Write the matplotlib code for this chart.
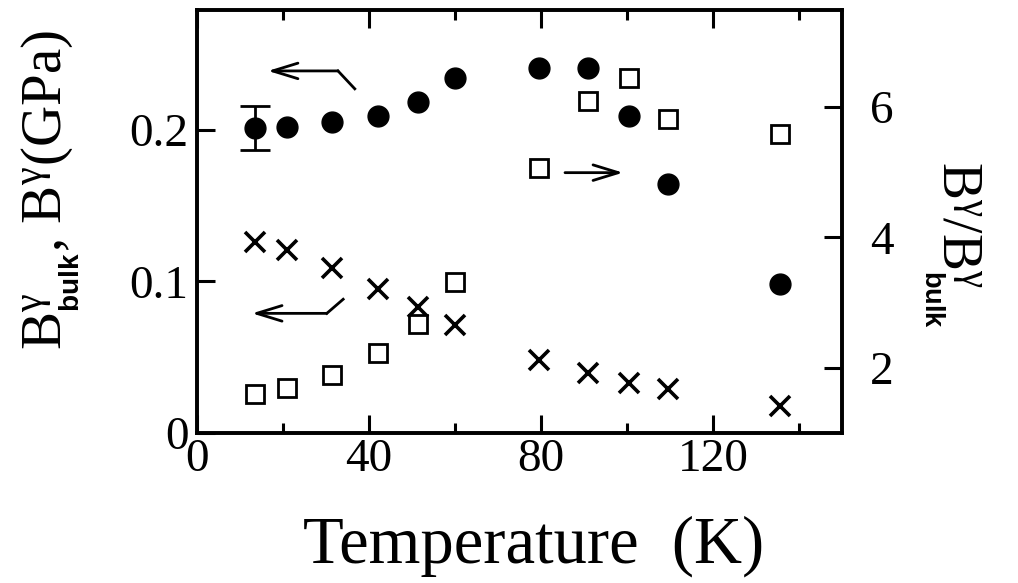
#!/usr/bin/env python
# B^gamma, B^gamma_bulk and their ratio vs temperature (two y axes)
import matplotlib
matplotlib.use('Agg')
import numpy as np
import matplotlib.pyplot as plt
from matplotlib.ticker import MultipleLocator

matplotlib.rcParams['font.family'] = 'Liberation Serif'
matplotlib.rcParams['mathtext.fontset'] = 'custom'
matplotlib.rcParams['mathtext.rm'] = 'Liberation Serif'
matplotlib.rcParams['mathtext.it'] = 'Liberation Serif:italic'
matplotlib.rcParams['mathtext.sf'] = 'Liberation Sans:bold'

# data
temperature = [13.5, 21, 31.5, 42, 51.5, 60, 79.5, 91, 100.5, 109.5, 135.5]
b_gamma = [0.201, 0.202, 0.205, 0.209, 0.218, 0.234, 0.241, 0.241, 0.209, 0.1645, 0.098]
b_gamma_err = [0.0145, 0, 0, 0, 0, 0, 0, 0, 0, 0, 0]
b_bulk = [0.126, 0.121, 0.109, 0.095, 0.083, 0.071, 0.048, 0.0395, 0.033, 0.029, 0.018]
ratio = [1.60, 1.69, 1.89, 2.23, 2.67, 3.32, 5.07, 6.09, 6.44, 5.82, 5.59]

xticks = [0, 40, 80, 120]
yticks_left = [0, 0.1, 0.2]
ytick_labels_left = ['0', '0.1', '0.2']
yticks_right = [2, 4, 6]

fig = plt.figure(figsize=(10.18, 5.83), dpi=100)
ax = fig.add_axes([0.1935, 0.2573, 0.6335, 0.7256])
ax2 = ax.twinx()

# filled circles: B^gamma (left axis), error bar only on first point
err = np.array(b_gamma_err)
ax.errorbar(temperature[:1], b_gamma[:1], yerr=err[:1], fmt='none', ecolor='black',
            elinewidth=2, capsize=11, capthick=2, zorder=3)
ax.plot(temperature, b_gamma, 'o', color='black', markersize=15, zorder=4)

# crosses: B^gamma_bulk (left axis)
ax.plot(temperature, b_bulk, 'x', color='black', markersize=14, mew=2.6, zorder=4)

# open squares: ratio (right axis)
ax2.plot(temperature, ratio, 's', mfc='white', mec='black', markersize=13, mew=2, zorder=4)

ax.set_xlim(0, 150)
ax.set_ylim(0, 0.279)
ax2.set_ylim(1.0, 7.49)

ax.set_xticks(xticks)
ax.xaxis.set_minor_locator(MultipleLocator(20))
ax.set_yticks(yticks_left)
ax.set_yticklabels(ytick_labels_left)
ax2.set_yticks(yticks_right)

for a in (ax, ax2):
    for s in a.spines.values():
        s.set_linewidth(2.6)

ax.tick_params(axis='x', which='both', direction='in', top=True, bottom=True,
               width=2.2, labelsize=34, pad=4)
ax.tick_params(axis='x', which='major', length=13)
ax.tick_params(axis='x', which='minor', length=7)
ax.tick_params(axis='y', direction='in', left=True, right=False, length=13,
               width=2.2, labelsize=34, pad=6)
ax2.tick_params(axis='y', direction='in', left=False, right=True, length=13,
                width=2.2, labelsize=34, pad=20)

# arrows pointing to the axis each series belongs to
arr = dict(arrowstyle='->, head_length=1.3, head_width=0.4', color='black', lw=2,
           mutation_scale=14, shrinkA=0, shrinkB=0)
ax.plot([36.7, 32.8], [0.227, 0.2388], color='black', lw=2)
ax.annotate('', xy=(16.5, 0.2388), xytext=(32.8, 0.2388), arrowprops=arr)
ax.plot([34.0, 30.2], [0.0882, 0.0789], color='black', lw=2)
ax.annotate('', xy=(12.8, 0.0789), xytext=(30.2, 0.0789), arrowprops=arr)
ax.annotate('', xy=(99.1, 0.1717), xytext=(85.6, 0.1717), arrowprops=arr)

# axis labels
fig.text(534 / 1018., 1 - 563 / 583., 'Temperature  (K)', fontsize=48,
         ha='center', va='baseline')
fig.text(61 / 1018., 1 - 190 / 583.,
         r'$\mathrm{B}^{\mathrm{\gamma}}_{{}_{\mathsf{bulk}}}$, $\mathrm{B}^{\mathrm{\gamma}}$(GPa)',
         fontsize=41, rotation=90, rotation_mode='anchor', ha='center', va='baseline')
fig.text(943 / 1018., 1 - 245 / 583.,
         r'$\mathrm{B}^{\mathrm{\gamma}}/\mathrm{B}^{\mathrm{\gamma}}_{{}_{\mathsf{bulk}}}$',
         fontsize=40, rotation=270, rotation_mode='anchor', ha='center', va='baseline')

plt.savefig('out.png', dpi=100)
